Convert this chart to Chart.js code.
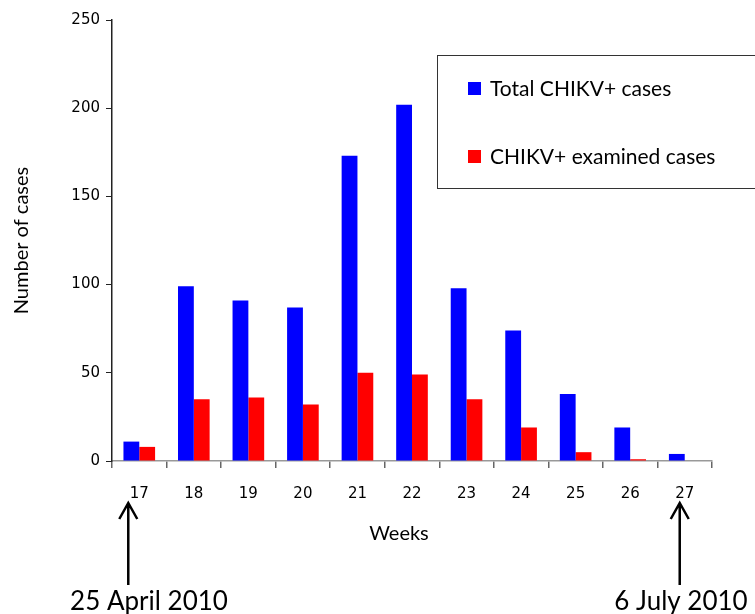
<!DOCTYPE html>
<html>
<head>
<meta charset="utf-8">
<script src="https://cdn.jsdelivr.net/npm/chart.js@4"></script>
<style>
    html, body { margin: 0; padding: 0; background: #fff; }
    #wrap { width: 755px; height: 614px; }
</style>
</head>
<body>
<div id="wrap"><canvas id="myChart" width="755" height="614"></canvas></div>
<script>
const weeks         = ['17', '18', '19', '20', '21', '22', '23', '24', '25', '26', '27'];
const totalCases    = [11, 99, 91, 87, 173, 202, 98, 74, 38, 19, 4];
const examinedCases = [8, 35, 36, 32, 50, 49, 35, 19, 5, 1, 0];
const yTicks        = [0, 50, 100, 150, 200, 250];
const seriesNames   = ['Total CHIKV+ cases', 'CHIKV+ examined cases'];
const startLabel    = '25 April 2010';
const endLabel      = '6 July 2010';

// legend box, axis titles and the two date arrows
const extras = {
    id: 'extras',
    afterDraw(chart) {
        const ctx = chart.ctx;
        const x   = chart.scales.x;
        ctx.save();

        // legend
        ctx.strokeStyle = '#333';
        ctx.lineWidth = 1;
        ctx.strokeRect(437.5, 55.5, 330, 133);
        ctx.font = '21px Lato';
        ctx.textBaseline = 'middle';
        ctx.textAlign = 'left';
        chart.data.datasets.forEach((ds, i) => {
            const y = 89 + i * 68;
            ctx.fillStyle = ds.backgroundColor;
            ctx.fillRect(468, y - 7, 13, 13);
            ctx.fillStyle = '#000';
            ctx.fillText(ds.label, 490, y);
        });

        // axis titles
        ctx.font = '20px Lato';
        ctx.textAlign = 'center';
        ctx.fillText('Weeks', 399, 534);
        ctx.save();
        ctx.translate(22, (chart.chartArea.top + chart.chartArea.bottom) / 2);
        ctx.rotate(-Math.PI / 2);
        ctx.fillText('Number of cases', 0, 0);
        ctx.restore();

        // arrows
        const arrow = (ax) => {
            ctx.beginPath();
            ctx.moveTo(ax, 585);
            ctx.lineTo(ax, 503);
            ctx.moveTo(ax - 9, 519);
            ctx.lineTo(ax, 503);
            ctx.lineTo(ax + 9, 519);
            ctx.strokeStyle = '#000';
            ctx.lineWidth = 2.5;
            ctx.stroke();
        };
        const x0 = x.getPixelForValue(0) - 11;
        const x1 = x.getPixelForValue(weeks.length - 1) - 5;
        arrow(x0);
        arrow(x1);

        ctx.font = '26px Lato';
        ctx.textBaseline = 'alphabetic';
        ctx.fillText(startLabel, 149, 610);
        ctx.fillText(endLabel, 681, 610);
        ctx.restore();
    }
};

const ctx = document.getElementById('myChart');

new Chart(ctx, {
    type: 'bar',
    data: {
        labels: weeks,
        datasets: [{
            label: seriesNames[0],
            data: totalCases,
            backgroundColor: '#0000ff',
            categoryPercentage: 0.58,
            barPercentage: 1.0
        }, {
            label: seriesNames[1],
            data: examinedCases,
            backgroundColor: '#ff0000',
            categoryPercentage: 0.58,
            barPercentage: 1.0
        }]
    },
    options: {
        responsive: false,
        animation: false,
        layout: { padding: { left: 0, top: 20, right: 43, bottom: 0 } },
        plugins: {
            legend: { display: false },
            tooltip: { enabled: false }
        },
        scales: {
            x: {
                afterFit: (s) => { s.height = 153; },
                border: { color: '#999', width: 1.5 },
                grid: {
                    offset: true,
                    drawOnChartArea: false,
                    tickLength: 7,
                    color: '#666',
                    lineWidth: 1.5
                },
                ticks: {
                    color: '#000',
                    padding: 17,
                    font: { family: 'DejaVu Sans', size: 15 }
                }
            },
            y: {
                min: 0,
                max: 250,
                afterFit: (s) => { s.width = 112; },
                afterBuildTicks: (s) => { s.ticks = yTicks.map(v => ({ value: v })); },
                border: { color: '#222', width: 1.5 },
                grid: {
                    drawOnChartArea: false,
                    tickLength: 6,
                    color: '#222'
                },
                ticks: {
                    color: '#000',
                    padding: 6,
                    font: { family: 'DejaVu Sans', size: 15 }
                }
            }
        }
    },
    plugins: [extras]
});
</script>
</body>
</html>
